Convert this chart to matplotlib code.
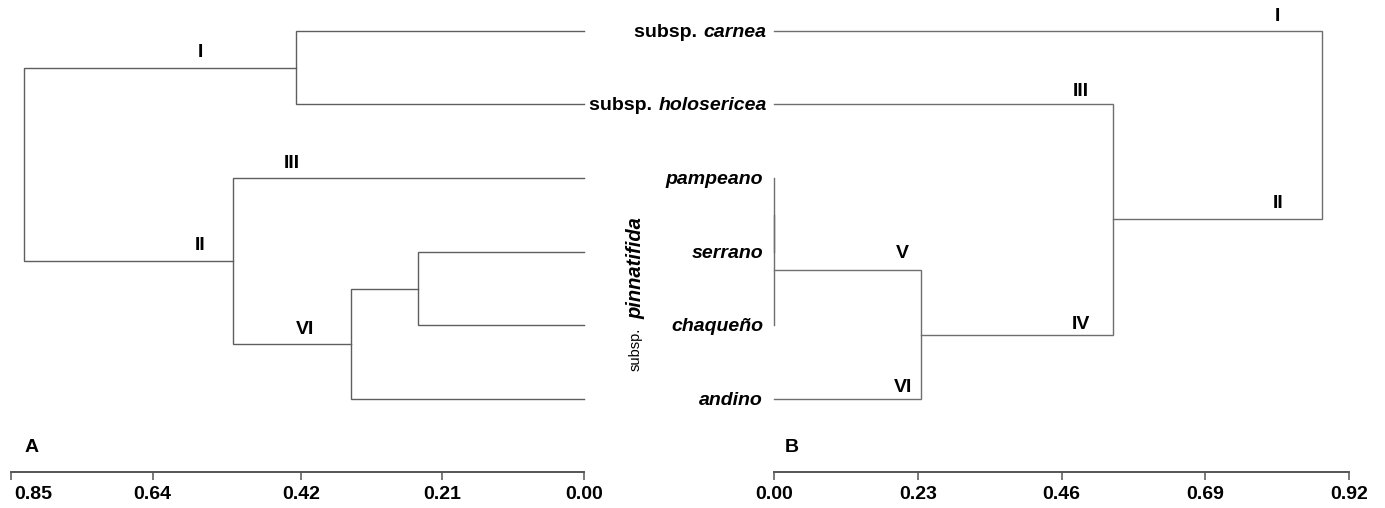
import matplotlib
matplotlib.use("Agg")
import matplotlib.pyplot as plt
import matplotlib.transforms as mtransforms

plt.rcParams['font.family'] = ['Liberation Sans', 'DejaVu Sans']

# ---------------- data ----------------
leaf_names = ["carnea", "holosericea", "pampeano", "serrano", "chaqueño", "andino"]
leaf_prefix = ["subsp. ", "subsp. ", "", "", "", ""]
group_prefix = "subsp."
group_name = "pinnatifida"

# merges: (child a, child b, distance); new nodes are numbered from len(leaves)
merges_A = [(3, 4, 0.246), (6, 5, 0.346), (2, 7, 0.521), (0, 1, 0.427), (9, 8, 0.831)]
ticks_A = [0.85, 0.64, 0.42, 0.21, 0.00]
cluster_labels_A = ["I", "III", "II", "VI"]

merges_B = [(2, 3, 0.0), (6, 4, 0.0), (7, 5, 0.236), (1, 8, 0.542), (0, 9, 0.877)]
ticks_B = [0.00, 0.23, 0.46, 0.69, 0.92]
cluster_labels_B = ["I", "III", "II", "V", "IV", "VI"]

# ---------------- layout ----------------
W, H, DPI = 1385, 508, 100
LINE_C_A = '#5e5e5e'
LINE_C_B = '#6e6e6e'
AX_C = '#555555'
FS = 14

# label placement (distance, leaf-index)
pos_lab_A = [(0.569, 0.30), (0.433, 1.80), (0.569, 2.91), (0.414, 4.05)]
pos_lab_B = [(0.806, -0.19), (0.491, 0.83), (0.806, 2.35), (0.206, 3.02), (0.491, 3.995), (0.207, 4.84)]
leaf_label_right_px = [766, 767, 763, 763, 763, 763]

fig = plt.figure(figsize=(W / DPI, H / DPI), dpi=DPI)

leaf_top, leaf_step = 30.7, 73.66
axis_py = 472
ylim = ((axis_py - leaf_top) / leaf_step, (0 - leaf_top) / leaf_step)


def make_ax(px0, px1, xlim):
    ax = fig.add_axes([px0 / W, (H - axis_py) / H, (px1 - px0) / W, axis_py / H])
    ax.set_xlim(*xlim)
    ax.set_ylim(*ylim)
    ax.patch.set_visible(False)
    for s in ['top', 'left', 'right']:
        ax.spines[s].set_visible(False)
    ax.spines['bottom'].set_color(AX_C)
    ax.spines['bottom'].set_linewidth(1.4)
    ax.set_yticks([])
    ax.tick_params(axis='x', direction='out', length=5.6, width=1.1, color=AX_C,
                   pad=4.5, labelsize=FS)
    return ax


def draw_tree(ax, merges, n, color):
    pos = {i: (0.0, float(i)) for i in range(n)}
    for k, (a, b, h) in enumerate(merges):
        ha_, ya = pos[a]
        hb, yb = pos[b]
        ax.plot([ha_, h, h, hb], [ya, ya, yb, yb], color=color, lw=1.0,
                solid_joinstyle='miter', clip_on=False)
        pos[n + k] = (h, (ya + yb) / 2)


axA = make_ax(11, 584, (0.85, 0.0))
axB = make_ax(774, 1349, (0.0, 0.92))

n = len(leaf_names)
draw_tree(axA, merges_A, n, LINE_C_A)
draw_tree(axB, merges_B, n, LINE_C_B)

axA.set_xticks(ticks_A)
axA.set_xticklabels([f"{t:.2f}" for t in ticks_A], fontweight='bold')
axB.set_xticks(ticks_B)
axB.set_xticklabels([f"{t:.2f}" for t in ticks_B], fontweight='bold')
axA.spines['bottom'].set_bounds(min(ticks_A), max(ticks_A))
axB.spines['bottom'].set_bounds(min(ticks_B), max(ticks_B))
# first label of A is shifted inward
lbl0 = axA.get_xticklabels()[0]
lbl0.set_transform(lbl0.get_transform() + mtransforms.ScaledTranslation(22 / DPI, 0, fig.dpi_scale_trans))

for t, (x, y) in zip(cluster_labels_A, pos_lab_A):
    axA.text(x, y, t, ha='center', va='center', fontsize=FS, fontweight='bold')
for t, (x, y) in zip(cluster_labels_B, pos_lab_B):
    axB.text(x, y, t, ha='center', va='center', fontsize=FS, fontweight='bold')

fig.text(31.5 / W, 1 - 448 / H, "A", ha='center', va='center', fontsize=FS, fontweight='bold')
fig.text(792 / W, 1 - 447 / H, "B", ha='center', va='center', fontsize=FS, fontweight='bold')

# leaf labels
renderer = fig.canvas.get_renderer()
name_texts = []
for i, (pre, nm) in enumerate(zip(leaf_prefix, leaf_names)):
    xd = axB.transData.inverted().transform((leaf_label_right_px[i], 0))[0]
    t = axB.text(xd, i + 0.02, nm, ha='right', va='center', fontsize=FS,
                 fontweight='bold', fontstyle='italic')
    name_texts.append((t, pre, i))
fig.canvas.draw()
inv = axB.transData.inverted()
for t, pre, i in name_texts:
    if pre:
        bb = t.get_window_extent(renderer)
        xd = inv.transform((bb.x0 - 1, 0))[0]
        axB.text(xd, i + 0.02, pre, ha='right', va='center', fontsize=FS, fontweight='bold')

# vertical group label
vx, vy = 636, 371
t1 = fig.text(vx / W, 1 - vy / H, group_prefix, rotation=90, ha='center', va='bottom',
              fontsize=10.5)
fig.canvas.draw()
bb = t1.get_window_extent(renderer)
fig.text(vx / W, (bb.y1 + 9) / H, group_name, rotation=90, ha='center', va='bottom',
         fontsize=14.5, fontweight='bold', fontstyle='italic')

fig.savefig('out.png', dpi=DPI)
